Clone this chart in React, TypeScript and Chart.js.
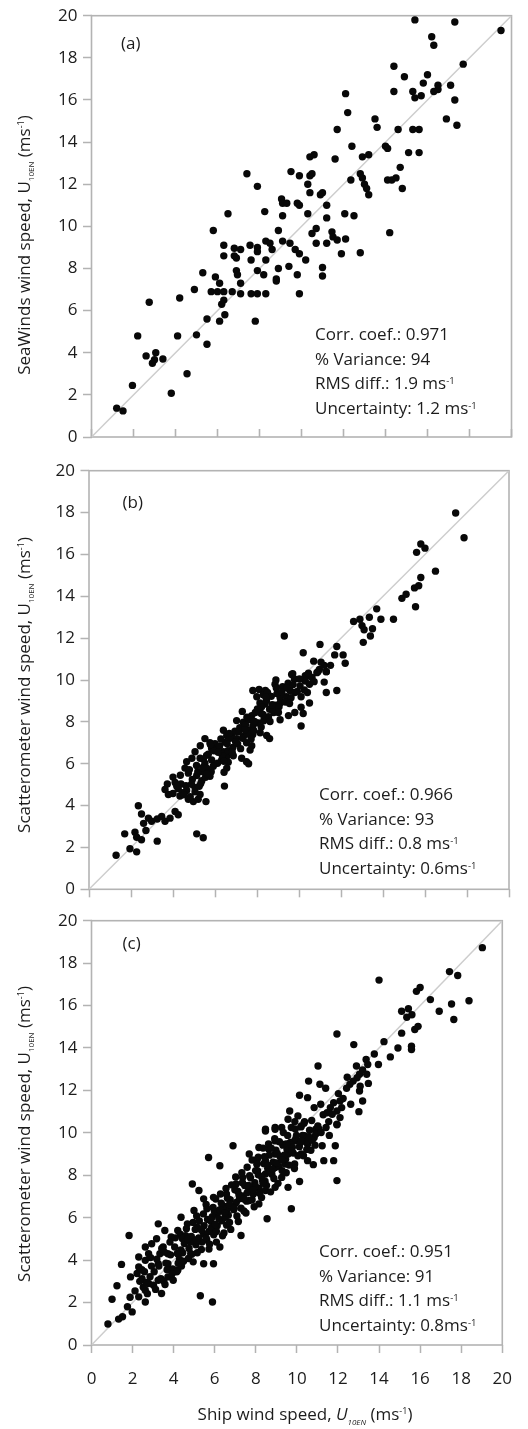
import React, { useEffect, useRef } from "react";
import { Chart, registerables } from "chart.js";

Chart.register(...registerables);

// ---------------- DATA ----------------
const axisTicks = [0, 2, 4, 6, 8, 10, 12, 14, 16, 18, 20];

// (a) ship wind speed (x) vs SeaWinds wind speed (y)
const pointsA: [number, number][] = [
  [15.4, 19.8], [17.3, 19.7], [19.5, 19.3], [16.2, 19.0], [16.3, 18.6], [17.7, 17.7], [14.4, 17.6], [14.9, 17.1],
  [16.0, 17.2], [15.8, 16.8], [16.5, 16.7], [17.1, 16.7], [16.3, 16.4], [16.5, 16.5], [14.4, 16.4], [15.3, 16.4],
  [15.4, 16.1], [15.7, 16.2], [17.3, 16.0], [12.1, 16.3], [12.2, 15.4], [13.5, 15.1], [13.6, 14.7], [11.7, 14.6],
  [14.6, 14.6], [15.3, 14.6], [15.6, 14.6], [16.9, 15.1], [17.4, 14.8], [12.4, 13.8], [14.0, 13.8], [14.1, 13.7],
  [15.1, 13.5], [15.6, 13.5], [10.4, 13.3], [10.6, 13.4], [12.9, 13.3], [13.2, 13.4], [11.6, 13.2],
  [7.4, 12.5], [9.5, 12.6], [9.9, 12.4], [10.4, 12.4], [10.5, 12.5], [12.8, 12.5], [12.9, 12.3], [13.0, 12.0],
  [13.1, 11.8], [13.2, 11.5], [14.1, 12.2], [14.3, 12.2], [14.5, 12.3], [14.7, 12.8], [14.8, 11.8], [7.9, 11.9],
  [10.3, 12.0], [10.4, 11.6], [10.9, 11.5], [11.0, 11.6], [11.2, 11.0], [12.35, 12.2], [12.06, 10.6], [12.5, 10.5],
  [9.05, 11.3], [9.1, 11.1], [9.3, 11.1], [9.8, 11.1], [9.9, 11.0], [8.25, 10.7], [9.1, 10.5], [10.3, 10.6],
  [11.2, 10.4], [6.5, 10.6], [5.8, 9.8], [8.9, 9.8], [10.7, 9.9], [10.5, 9.66], [11.45, 9.74], [11.5, 9.5],
  [11.7, 9.35], [12.1, 9.4], [14.2, 9.7], [10.7, 9.2], [11.2, 9.2], [11.9, 8.7], [12.8, 8.75],
  [6.3, 9.1], [6.8, 8.96], [7.1, 8.9], [6.8, 8.6], [6.9, 8.5], [6.3, 8.6], [7.55, 9.1], [7.9, 9.0],
  [7.9, 8.8], [7.6, 8.4], [8.3, 9.3], [8.5, 9.2], [8.6, 8.9], [8.3, 8.4], [9.1, 9.3], [9.45, 9.2],
  [9.7, 8.9], [9.9, 8.7], [10.2, 8.4],
  [5.3, 7.8], [5.9, 7.6], [6.1, 7.3], [6.9, 7.9], [6.95, 7.7], [7.1, 7.3], [7.9, 7.9], [8.2, 7.7],
  [8.9, 8.0], [8.8, 7.5], [8.8, 7.4], [9.4, 8.1], [9.8, 7.7], [11.0, 8.05], [11.0, 7.64],
  [4.9, 7.0], [5.7, 6.9], [6.0, 6.9], [6.3, 6.9], [6.7, 6.9], [7.1, 6.8], [6.3, 6.5], [6.2, 6.3],
  [7.6, 6.8], [7.9, 6.8], [8.3, 6.8], [9.9, 6.8],
  [2.75, 6.4], [4.2, 6.6], [5.5, 5.6], [6.35, 5.8], [6.1, 5.5], [7.8, 5.5], [2.2, 4.8], [4.1, 4.8],
  [5.0, 4.85], [5.5, 4.4], [2.6, 3.85], [3.06, 4.0], [3.0, 3.67], [2.9, 3.5], [3.4, 3.7], [4.55, 3.0],
  [1.95, 2.45], [3.8, 2.08], [1.2, 1.37], [1.5, 1.24],
];

// (b) ship wind speed (x) vs scatterometer wind speed (y)
const pointsB: [number, number][] = [
  [17.46, 17.98], [17.86, 16.8], [15.8, 16.5], [16.0, 16.3], [15.6, 16.1], [16.5, 15.2], [15.8, 14.9], [15.5, 14.4],
  [15.7, 14.5], [14.9, 13.9], [15.1, 14.1], [15.55, 13.5], [13.7, 13.4], [13.35, 13.0], [13.9, 12.9], [14.5, 12.9],
  [12.6, 12.8], [12.9, 12.9], [13.0, 12.6], [13.1, 12.4], [13.5, 12.45], [13.4, 12.1], [13.06, 11.8], [9.3, 12.1],
  [11.0, 11.7], [10.2, 11.3], [11.8, 11.6], [11.7, 11.2], [12.1, 11.2], [12.2, 10.8], [10.7, 10.9], [10.97, 10.5],
  [11.2, 10.7], [11.5, 10.7], [11.3, 10.4], [9.7, 10.3], [10.3, 10.2], [8.9, 10.0],
  [9.65, 10.26], [10.37, 10.2], [10.3, 9.95], [10.5, 9.8], [10.9, 10.4], [11.3, 10.4], [11.2, 9.9], [11.3, 9.4],
  [11.8, 9.5], [8.86, 9.8], [9.57, 9.5], [7.8, 9.5], [8.1, 9.55], [8.4, 9.5], [7.99, 9.2], [8.3, 9.3],
  [8.5, 9.4], [9.1, 9.15], [9.4, 9.2], [9.8, 9.4], [10.1, 9.2], [10.4, 9.4], [10.5, 8.9], [8.14, 8.9],
  [8.38, 8.85], [8.6, 8.6], [8.86, 8.8], [9.1, 8.9], [8.2, 8.4], [8.5, 8.2], [8.8, 8.45], [9.1, 8.1],
  [9.5, 8.3], [9.8, 8.45], [10.1, 8.7], [10.2, 8.4], [10.1, 7.8], [7.3, 8.5],
  [7.03, 8.06], [7.35, 7.98], [7.6, 8.1], [7.75, 8.3], [7.8, 7.8], [8.2, 7.75], [8.46, 7.35], [8.6, 7.2],
  [7.8, 7.4], [7.6, 7.6], [6.4, 7.6], [6.56, 7.35], [6.8, 7.4], [7.03, 7.2], [7.35, 7.3], [7.5, 7.0],
  [7.75, 6.86], [7.67, 6.65], [7.27, 6.26], [7.5, 6.1], [7.6, 6.0],
  [5.52, 7.2], [5.76, 7.0], [6.0, 6.96], [6.08, 6.73], [5.84, 6.73], [5.3, 6.86], [5.05, 6.57], [6.4, 6.57],
  [6.56, 6.34], [6.63, 6.07], [6.32, 6.18], [6.87, 6.38], [6.56, 5.79], [6.43, 5.59],
  [5.6, 6.4], [5.84, 6.18], [5.52, 6.02], [5.29, 6.26], [4.9, 6.26], [4.65, 6.1], [4.57, 5.79], [4.73, 5.55],
  [5.13, 5.44], [5.37, 5.63], [5.6, 5.79], [5.76, 5.4], [5.37, 5.19], [6.45, 4.93],
  [4.0, 5.36], [3.73, 5.03], [4.1, 5.1], [4.38, 5.03], [4.25, 4.81], [4.0, 4.58], [4.33, 4.46], [4.73, 4.3],
  [4.97, 4.19], [5.2, 4.3], [5.57, 4.19], [5.29, 4.53], [5.05, 4.66], [4.65, 4.72], [3.62, 4.77], [3.78, 4.53],
  [2.35, 3.99], [2.5, 3.6], [2.83, 3.4], [2.98, 3.25], [2.6, 3.15], [3.46, 3.48], [3.62, 3.25], [3.25, 3.36],
  [4.1, 3.72], [4.25, 3.56], [3.86, 3.4],
  [1.7, 2.65], [2.19, 2.73], [2.27, 2.49], [2.5, 2.37], [2.71, 2.81], [3.25, 2.3], [5.13, 2.65], [5.44, 2.46],
  [1.29, 1.63], [1.95, 1.94], [2.27, 1.79],
  [4.45, 4.62], [4.62, 4.95], [4.82, 4.42], [4.92, 5.25], [5.05, 4.85], [5.18, 5.62], [5.32, 5.05], [5.42, 5.82],
  [5.55, 5.35], [5.68, 6.45], [5.82, 5.62], [5.95, 6.62], [6.12, 6.02], [6.22, 6.85], [6.35, 6.38], [6.48, 7.02],
  [6.62, 6.62], [6.72, 7.22], [6.85, 6.78], [6.95, 7.55], [7.08, 6.95], [7.18, 7.72], [7.32, 7.22], [7.45, 7.85],
  [7.55, 7.42], [7.68, 8.12], [7.85, 7.58], [7.92, 8.45], [8.05, 7.95], [8.22, 8.72], [8.32, 8.05], [8.45, 9.02],
  [8.55, 8.25], [8.68, 9.22], [8.78, 8.55], [8.95, 9.35], [9.05, 8.72], [9.22, 9.68], [9.35, 8.95], [9.48, 9.85],
  [9.62, 9.15], [9.78, 10.05], [9.92, 9.45], [10.05, 9.72], [10.62, 10.12], [10.85, 10.35], [11.05, 10.85],
  [4.18, 4.92], [4.35, 5.45], [4.52, 4.52], [4.78, 5.72], [4.88, 5.02], [5.12, 5.92], [5.25, 4.92], [5.45, 6.22],
  [5.62, 5.52], [5.78, 6.92], [5.92, 5.88], [6.15, 6.55], [6.28, 7.18], [6.42, 6.12], [6.58, 6.95], [6.68, 7.45],
  [6.82, 6.55], [6.98, 7.05], [7.12, 7.52], [7.22, 6.72], [7.42, 7.62], [7.52, 8.22], [7.72, 7.18], [7.88, 8.02],
  [8.02, 8.62], [8.15, 7.48], [8.28, 8.35], [8.42, 9.18], [8.62, 8.02], [8.72, 8.82], [8.92, 9.62], [9.02, 8.45],
  [9.18, 9.42], [9.42, 9.62], [9.55, 8.88], [9.72, 9.78], [10.02, 10.05], [10.25, 9.52], [10.45, 10.32], [10.72, 9.92],
];

// (c) ship wind speed (x) vs scatterometer wind speed (y)
const pointsC: [number, number][] = [
  [19.03, 18.73], [17.43, 17.6], [17.83, 17.42], [14.0, 17.2], [15.82, 16.67], [16.0, 16.85], [16.5, 16.28], [16.93, 15.73],
  [17.53, 16.07], [18.38, 16.23], [17.64, 15.34], [15.1, 15.73], [15.43, 15.85], [15.6, 15.57], [15.35, 15.45], [15.74, 14.87],
  [15.9, 15.02], [15.1, 14.7], [14.24, 14.3], [11.95, 14.66], [12.77, 14.16], [14.92, 14.0], [15.58, 14.08], [15.58, 13.93],
  [13.77, 13.72], [14.55, 13.58], [13.37, 13.46], [13.45, 13.22], [13.97, 13.22], [11.03, 13.15], [12.9, 13.15], [13.05, 12.76],
  [13.2, 12.96], [13.4, 12.76], [12.93, 12.6], [12.74, 12.44], [12.58, 12.29], [12.42, 12.1], [13.08, 12.2], [13.48, 12.33],
  [10.57, 12.44], [11.12, 12.29], [11.4, 12.1], [13.05, 11.97], [13.2, 11.5], [13.02, 11.0], [10.13, 11.77], [10.52, 11.66],
  [10.84, 11.19], [11.16, 11.35], [11.79, 11.42], [12.1, 11.5], [12.18, 11.19], [11.95, 11.03], [11.63, 11.19], [11.47, 10.95],
  [11.28, 10.85], [12.1, 10.72], [11.95, 10.38], [11.55, 10.53], [9.65, 11.03], [10.05, 10.8], [10.37, 10.53], [9.9, 10.53],
  [10.2, 10.28], [9.57, 10.64], [8.47, 10.17], [8.94, 10.25], [9.26, 10.25], [10.92, 10.17],
  [11.95, 10.41], [11.08, 10.17], [10.84, 9.78], [11.23, 9.39], [11.87, 9.39], [11.79, 8.69], [11.31, 8.69], [10.8, 8.5],
  [11.95, 7.75], [10.13, 7.71],
  [8.47, 10.09], [8.94, 10.17], [9.34, 10.02], [9.73, 10.25], [10.21, 10.33], [10.37, 9.86], [10.52, 9.47], [9.89, 9.62],
  [9.42, 9.47], [8.94, 9.62], [8.63, 9.23], [8.15, 9.31], [7.68, 9.0], [8.07, 8.76], [8.47, 8.69], [8.94, 9.0],
  [9.57, 9.0], [10.21, 9.0], [9.89, 8.53], [10.52, 8.69], [9.42, 8.53], [8.94, 8.37], [8.47, 8.06], [7.99, 8.22],
  [9.26, 7.9], [9.57, 7.43], [8.94, 7.43], [8.47, 7.28], [7.68, 7.43], [7.36, 7.9], [7.04, 7.59], [6.89, 9.39],
  [6.25, 8.45], [5.7, 8.84], [4.91, 7.59], [5.23, 7.28], [5.46, 6.89], [5.94, 6.96], [6.57, 7.12], [7.2, 6.89],
  [7.68, 6.81], [8.15, 6.65], [8.55, 5.95], [9.73, 6.42], [7.28, 5.16], [6.57, 6.34], [6.1, 6.18], [5.78, 5.87],
  [5.62, 6.42], [4.99, 6.34], [4.36, 6.02], [4.67, 5.71], [5.15, 5.55], [5.46, 5.24], [5.94, 5.4], [6.25, 4.62],
  [4.67, 5.09], [4.2, 5.4], [3.88, 5.09], [3.57, 5.4], [3.25, 5.71], [3.17, 5.01], [3.49, 4.62], [2.93, 4.77],
  [2.62, 4.62], [2.78, 4.3], [3.33, 4.3], [3.72, 4.3], [4.2, 4.3], [4.83, 4.3], [5.46, 3.83], [5.94, 3.83],
  [4.12, 3.52], [3.72, 3.83], [3.25, 3.83], [2.62, 3.99], [2.3, 4.15], [1.83, 5.16], [2.3, 3.68], [2.22, 3.37],
  [2.46, 3.13], [2.78, 2.9], [3.25, 3.05], [3.72, 3.21], [4.2, 3.52], [3.41, 2.43], [2.62, 2.58], [2.3, 2.27],
  [2.62, 2.03], [1.9, 3.21], [1.46, 3.8], [1.24, 2.79], [1.0, 2.16], [1.75, 1.8], [1.98, 1.56], [1.51, 1.33],
  [1.32, 1.22], [0.8, 0.99], [5.3, 2.32], [5.89, 2.03],
  [3.05, 3.45], [3.38, 3.12], [3.62, 3.86], [3.95, 3.58], [4.05, 4.62], [4.28, 4.05], [4.52, 4.78], [4.44, 4.35],
  [4.75, 4.55], [4.86, 5.12], [5.08, 4.72], [5.22, 5.05], [5.35, 4.5], [5.48, 5.62], [5.61, 4.95], [5.72, 5.35],
  [5.88, 6.05], [5.95, 5.2], [6.12, 5.62], [6.18, 6.28], [6.35, 5.85], [6.42, 6.55], [6.58, 5.65], [6.66, 6.12],
  [6.75, 6.85], [6.92, 6.38], [7.05, 6.72], [7.12, 7.25], [7.28, 6.45], [7.38, 7.02], [7.46, 7.52], [7.55, 6.78],
  [7.66, 7.35], [7.74, 7.88], [7.88, 7.12], [7.95, 7.65], [8.08, 8.22], [8.16, 7.38], [8.27, 7.95], [8.38, 8.55],
  [8.45, 7.72], [8.58, 8.32], [8.66, 8.95], [8.78, 8.05], [8.85, 8.62], [8.98, 9.18], [9.12, 8.42], [9.18, 8.88],
  [9.32, 9.42], [9.45, 8.75], [9.52, 9.22], [9.68, 9.55], [9.82, 9.05], [9.95, 9.72], [10.12, 9.35], [10.28, 9.88],
  [10.45, 9.58], [10.62, 10.12], [10.75, 9.65], [10.92, 9.95],
  [4.32, 5.22], [4.62, 5.48], [4.95, 5.78], [5.12, 6.08], [5.45, 6.18], [5.58, 6.62], [5.92, 6.48], [6.05, 6.88],
  [6.28, 7.12], [6.55, 7.38], [6.82, 7.55], [7.02, 7.92], [7.32, 8.12], [7.58, 8.38], [7.82, 8.72], [8.12, 8.85],
  [8.35, 9.28], [8.62, 9.48], [8.92, 9.72],
  [5.72, 4.52], [6.08, 4.85], [6.45, 5.28], [6.78, 5.45], [7.15, 5.82], [7.52, 6.22], [7.92, 6.52], [8.28, 6.95],
  [8.72, 7.22], [9.08, 7.62], [9.48, 8.12], [9.88, 8.32], [10.32, 8.92], [10.68, 9.18],
  [3.55, 4.38], [3.82, 4.85], [4.15, 3.45], [4.38, 3.72], [2.85, 3.22], [2.92, 3.72], [3.18, 4.05], [2.52, 2.72],
  [2.72, 2.42], [3.02, 2.82], [3.52, 3.02], [2.35, 3.0], [2.58, 3.45], [2.12, 2.55], [1.88, 2.25],
  [2.45, 3.55], [2.68, 2.95], [2.88, 4.12], [3.12, 2.62], [3.28, 3.72], [3.42, 4.55], [3.58, 2.85], [3.68, 3.55],
  [3.85, 4.25], [3.98, 3.05], [4.08, 5.05], [4.22, 3.85], [4.35, 4.48], [4.48, 3.95], [4.58, 5.15], [4.72, 4.08],
  [4.82, 4.85], [4.95, 3.92], [5.05, 5.45], [5.15, 4.35], [5.25, 5.85], [5.38, 4.85], [5.52, 5.22], [5.65, 5.92],
  [5.75, 4.75], [5.85, 5.55], [5.98, 6.32], [6.08, 5.35], [6.2, 5.95], [6.32, 6.68], [6.38, 5.15], [6.52, 6.02],
  [6.62, 6.92], [6.72, 5.78], [6.85, 6.52], [6.98, 7.32], [7.08, 6.08], [7.22, 6.92], [7.35, 7.65], [7.42, 6.32],
  [7.58, 7.18], [7.7, 7.98], [7.82, 6.85], [7.98, 7.48], [8.05, 8.52], [8.18, 7.15], [8.32, 7.78], [8.42, 8.88],
  [8.52, 7.52], [8.68, 8.18], [8.75, 9.28], [8.88, 7.85], [9.02, 8.58], [9.15, 9.58], [9.28, 8.22], [9.38, 8.95],
  [9.55, 9.88], [9.62, 8.48], [9.78, 9.32], [9.92, 10.18], [10.05, 8.92], [10.18, 9.55], [10.35, 10.45], [10.48, 9.22],
  [10.58, 9.82], [10.72, 10.58], [10.88, 9.42], [11.02, 10.32], [11.18, 10.02], [11.42, 10.25], [11.58, 9.88], [11.72, 10.88],
  [12.02, 11.85], [12.25, 11.62], [12.45, 12.62], [12.62, 11.35],
  [3.92, 3.35], [4.18, 4.32], [4.42, 5.02], [4.68, 4.98], [4.88, 4.28], [5.12, 4.95], [5.35, 5.42], [5.58, 5.05],
  [5.82, 5.92], [6.02, 5.68], [6.25, 6.38], [6.48, 6.22], [6.72, 6.62], [6.95, 6.45], [7.18, 7.08], [7.42, 6.88],
  [7.65, 7.52], [7.88, 7.32], [8.12, 8.02], [8.35, 7.62], [8.58, 8.48], [8.82, 8.28], [9.05, 9.02], [9.28, 8.72],
  [9.52, 9.48], [9.75, 9.12], [9.98, 9.88], [10.22, 9.62],
];

const diagonal: [number, number][] = [[0, 0], [20, 20]];

const panelLabels = ["(a)", "(b)", "(c)"];
const statsA = ["Corr. coef.: 0.971", "% Variance: 94", "RMS diff.: 1.9 ms", "Uncertainty: 1.2 ms"];
const statsB = ["Corr. coef.: 0.966", "% Variance: 93", "RMS diff.: 0.8 ms", "Uncertainty: 0.6ms"];
const statsC = ["Corr. coef.: 0.951", "% Variance: 91", "RMS diff.: 1.1 ms", "Uncertainty: 0.8ms"];
const statsSup = ["", "", "-1", "-1"];
const yTitleA = "SeaWinds wind speed, U";
const yTitleBC = "Scatterometer wind speed, U";
const xTitle = "Ship wind speed, ";
const symbol = "U";
const subscript = "10EN";
const unitOpen = " (ms";
const unitSup = "-1";
const unitClose = ")";

// ---------------- STYLE / LAYOUT ----------------
const FONT = '"Open Sans", "Noto Sans", sans-serif';
const TEXT = "#1c1c1c";
const FRAME = "#b3b3b3";
const DIAG = "#cdcdcd";

type Part = { t: string; size: number; dy?: number; italic?: boolean };

function partFont(p: Part) {
  return `${p.italic ? "italic " : ""}${p.size}px ${FONT}`;
}

function drawRich(ctx: CanvasRenderingContext2D, parts: Part[], x: number, y: number, align: "left" | "center") {
  let w = 0;
  for (const p of parts) {
    ctx.font = partFont(p);
    w += ctx.measureText(p.t).width;
  }
  let cx = align === "center" ? x - w / 2 : x;
  ctx.textAlign = "left";
  ctx.textBaseline = "alphabetic";
  ctx.fillStyle = TEXT;
  for (const p of parts) {
    ctx.font = partFont(p);
    ctx.fillText(p.t, cx, y + (p.dy || 0));
    cx += ctx.measureText(p.t).width;
  }
}

type PanelCfg = {
  key: string;
  top: number;
  height: number;
  left: number;
  right: number;
  areaTop: number;
  areaBottom: number;
  pts: [number, number][];
  label: string;
  labelX: number;
  labelY: number;
  stats: string[];
  statsX: number;
  statsY: number;
  yTitle: string;
  yTitleCY: number;
  xInward: boolean;
  xLabels: boolean;
};

const PANELS: PanelCfg[] = [
  {
    key: "a", top: 0, height: 455, left: 91.5, right: 511.5, areaTop: 15, areaBottom: 437,
    pts: pointsA, label: panelLabels[0], labelX: 121, labelY: 49,
    stats: statsA, statsX: 315, statsY: 340, yTitle: yTitleA, yTitleCY: 245, xInward: true, xLabels: false,
  },
  {
    key: "b", top: 455, height: 450, left: 89, right: 509, areaTop: 13, areaBottom: 438,
    pts: pointsB, label: panelLabels[1], labelX: 122.5, labelY: 52.5,
    stats: statsB, statsX: 319, statsY: 345, yTitle: yTitleBC, yTitleCY: 230, xInward: false, xLabels: false,
  },
  {
    key: "c", top: 905, height: 524, left: 91.5, right: 513, areaTop: 14.3, areaBottom: 440,
    pts: pointsC, label: panelLabels[2], labelX: 122.5, labelY: 44,
    stats: statsC, statsX: 319, statsY: 352, yTitle: yTitleBC, yTitleCY: 229, xInward: false, xLabels: true,
  },
];

function Panel({ cfg }: { cfg: PanelCfg }) {
  const ref = useRef<HTMLCanvasElement>(null);

  useEffect(() => {
    const canvas = ref.current;
    if (!canvas) return;

    const overlay = {
      id: "overlay_" + cfg.key,
      beforeDatasetsDraw(chart: any) {
        const { ctx, chartArea } = chart;
        ctx.save();
        ctx.strokeStyle = FRAME;
        ctx.lineWidth = 1.6;
        ctx.strokeRect(chartArea.left, chartArea.top, chartArea.right - chartArea.left, chartArea.bottom - chartArea.top);
        if (cfg.xInward) {
          const xs = chart.scales.x;
          ctx.beginPath();
          for (const t of xs.ticks) {
            const px = xs.getPixelForValue(t.value);
            ctx.moveTo(px, chartArea.bottom);
            ctx.lineTo(px, chartArea.bottom - 8);
          }
          ctx.stroke();
        }
        ctx.restore();
      },
      afterDraw(chart: any) {
        const ctx: CanvasRenderingContext2D = chart.ctx;
        ctx.save();
        drawRich(ctx, [{ t: cfg.label, size: 17 }], cfg.labelX, cfg.labelY, "left");
        cfg.stats.forEach((line, i) => {
          const parts: Part[] = [{ t: line, size: 17 }];
          if (statsSup[i]) parts.push({ t: statsSup[i], size: 9.5, dy: -5 });
          drawRich(ctx, parts, cfg.statsX, cfg.statsY + i * 24.6, "left");
        });
        ctx.save();
        ctx.translate(30, cfg.yTitleCY);
        ctx.rotate(-Math.PI / 2);
        drawRich(
          ctx,
          [
            { t: cfg.yTitle, size: 17 },
            { t: subscript, size: 8, dy: 4 },
            { t: unitOpen, size: 17 },
            { t: unitSup, size: 9, dy: -6 },
            { t: unitClose, size: 17 },
          ],
          0,
          0,
          "center"
        );
        ctx.restore();
        if (cfg.xLabels) {
          drawRich(
            ctx,
            [
              { t: xTitle, size: 17 },
              { t: symbol, size: 17, italic: true },
              { t: subscript, size: 8, dy: 5, italic: true },
              { t: unitOpen, size: 17 },
              { t: unitSup, size: 9, dy: -6 },
              { t: unitClose, size: 17 },
            ],
            305,
            514.5,
            "center"
          );
        }
        ctx.restore();
      },
    };

    const chart = new Chart(canvas, {
      type: "scatter",
      data: {
        datasets: [
          {
            data: cfg.pts.map(([x, y]) => ({ x, y })),
            backgroundColor: "#080808",
            borderWidth: 0,
            pointRadius: 3.7,
            pointHoverRadius: 3.7,
            order: 0,
          } as any,
          {
            data: diagonal.map(([x, y]) => ({ x, y })),
            showLine: true,
            borderColor: DIAG,
            borderWidth: 1.5,
            pointRadius: 0,
            order: 1,
          } as any,
        ],
      },
      options: {
        animation: false,
        responsive: false,
        devicePixelRatio: 1,
        events: [],
        layout: { padding: { top: cfg.areaTop, right: 528 - cfg.right, bottom: 0, left: 0 } },
        plugins: { legend: { display: false }, tooltip: { enabled: false } },
        scales: {
          x: {
            type: "linear",
            min: 0,
            max: 20,
            afterBuildTicks: (s: any) => {
              s.ticks = axisTicks.map((v) => ({ value: v }));
            },
            ticks: {
              display: cfg.xLabels,
              autoSkip: false,
              maxRotation: 0,
              padding: 16,
              color: TEXT,
              font: { family: FONT, size: 17 },
            },
            grid: {
              display: true,
              drawOnChartArea: false,
              drawTicks: !cfg.xInward,
              tickLength: 8,
              tickColor: FRAME,
              tickWidth: 1.5,
            },
            border: { display: false },
            afterFit: (s: any) => {
              s.height = cfg.height - cfg.areaBottom;
            },
          } as any,
          y: {
            type: "linear",
            min: 0,
            max: 20,
            afterBuildTicks: (s: any) => {
              s.ticks = axisTicks.map((v) => ({ value: v }));
            },
            ticks: {
              autoSkip: false,
              padding: 5.5,
              color: TEXT,
              font: { family: FONT, size: 17 },
            },
            grid: {
              display: true,
              drawOnChartArea: false,
              drawTicks: true,
              tickLength: 8.5,
              tickColor: FRAME,
              tickWidth: 1.5,
            },
            border: { display: false },
            afterFit: (s: any) => {
              s.width = cfg.left;
            },
          } as any,
        },
      },
      plugins: [overlay],
    });

    return () => chart.destroy();
  }, [cfg]);

  return (
    <canvas
      ref={ref}
      width={528}
      height={cfg.height}
      style={{ position: "absolute", left: 0, top: cfg.top, width: 528, height: cfg.height, display: "block" }}
    />
  );
}

export default function App() {
  return (
    <div style={{ position: "absolute", left: 0, top: 0, width: 528, height: 1429, background: "#ffffff" }}>
      {PANELS.map((p) => (
        <Panel key={p.key} cfg={p} />
      ))}
    </div>
  );
}
